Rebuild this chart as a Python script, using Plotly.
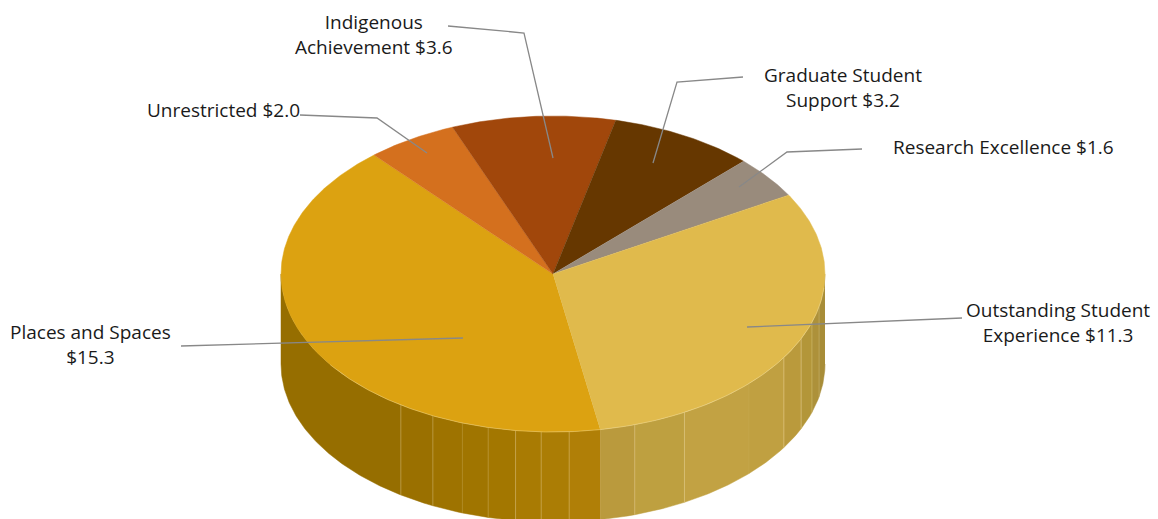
import numpy as np
import plotly.graph_objects as go

# Donation totals by priority ($ millions), in clockwise order
categories = ["Places and Spaces", "Unrestricted", "Indigenous Achievement",
              "Graduate Student Support", "Research Excellence",
              "Outstanding Student Experience"]
values = [15.3, 2.0, 3.6, 3.2, 1.6, 11.3]
top_colors = ["#DCA211", "#D4701E", "#A1470B", "#663700", "#998B7C", "#E0BA4C"]

# Label text for each slice, with its centre and its leader line
label_lines = [["Places and Spaces", "$15.3"], ["Unrestricted $2.0"],
               ["Indigenous", "Achievement $3.6"], ["Graduate Student", "Support $3.2"],
               ["Research Excellence $1.6"], ["Outstanding Student", "Experience $11.3"]]
label_x = [90, 223, 374, 843, 1003, 1058]
label_y = [344, 110, 34, 87, 147, 322]
leader_x = [[181, 463], [300, 377, 427], [448, 524, 553], [743, 677, 653], [862, 787, 739], [962, 747]]
leader_y = [[346, 338], [115, 118, 153], [26, 33, 158], [77, 82, 163], [149, 152, 187], [318, 327]]

# Facets of the visible rim: edge angles (clockwise from the top) and fill colours
rim_edges = [90, 102, 107.8, 114.2, 121.9, 133.9, 151.1, 162.5, 170,
             176.6, 182.5, 187.9, 193.8, 199.5, 206.2, 214, 270]
rim_colors = ["#A88D38", "#AD913A", "#B39639", "#BA9A3C", "#C0A041", "#C2A243", "#BEA040", "#BA9A3D",
              "#B07F07", "#AB7D05", "#A97B03", "#A37700", "#A07500", "#9E7300", "#9A7000", "#966E00"]
seam_alpha = [0.25, 0.3, 0.4, 0.4, 0.08, 0.3, 0.3, 0.0, 0.3, 0.3, 0.3, 0.2, 0.08, 0.3, 0.3]

CX, CY, RX, RY, DEPTH = 553, 274, 272, 158, 90
START_ANGLE = 170


def rim_point(angle_deg, drop=0.0, scale=1.0):
    a = np.radians(angle_deg)
    return CX + scale * RX * np.sin(a), CY - scale * RY * np.cos(a) + drop


def arc(a0, a1, drop=0.0):
    n = max(2, int(abs(a1 - a0) * 2) + 1)
    return rim_point(np.linspace(a0, a1, n), drop)


fig = go.Figure()


def polygon(xs, ys, color):
    fig.add_trace(go.Scatter(x=xs, y=ys, mode="lines", fill="toself", fillcolor=color,
                             line=dict(color=color, width=0.5), hoverinfo="skip", showlegend=False))


# Rim facets
for i, color in enumerate(rim_colors):
    tx, ty = arc(rim_edges[i], rim_edges[i + 1])
    bx, by = arc(rim_edges[i + 1], rim_edges[i], DEPTH)
    polygon(np.r_[tx, bx], np.r_[ty, by], color)

# Faint seams between facets
for edge, alpha in zip(rim_edges[1:-1], seam_alpha):
    if alpha > 0:
        sx, sy = rim_point(edge)
        fig.add_trace(go.Scatter(x=[sx, sx], y=[sy, sy + DEPTH], mode="lines",
                                 line=dict(color=f"rgba(245,225,170,{alpha})", width=1),
                                 hoverinfo="skip", showlegend=False))

# Top face, one wedge per value
total = sum(values)
angle = START_ANGLE
for value, color in zip(values, top_colors):
    sweep = 360 * value / total
    ax, ay = arc(angle, angle + sweep)
    polygon(np.r_[CX, ax], np.r_[CY, ay], color)
    angle += sweep

# Thin highlight where the top face meets the rim
hx, hy = arc(95, 235)
fig.add_trace(go.Scatter(x=hx, y=hy, mode="lines", line=dict(color="rgba(250,235,190,0.4)", width=0.8),
                         hoverinfo="skip", showlegend=False))

# Leader lines
for lx, ly in zip(leader_x, leader_y):
    fig.add_trace(go.Scatter(x=lx, y=ly, mode="lines", line=dict(color="#888888", width=1.3),
                             hoverinfo="skip", showlegend=False))

annotations = [dict(x=x, y=y, xref="x", yref="y", text="<br>".join(lines), showarrow=False,
                    xanchor="center", yanchor="middle", align="center",
                    font=dict(family="Open Sans", size=19, color="#1A1A1A"))
               for lines, x, y in zip(label_lines, label_x, label_y)]

fig.update_layout(
    width=1158, height=519, margin=dict(l=0, r=0, t=0, b=0),
    paper_bgcolor="white", plot_bgcolor="white", showlegend=False, annotations=annotations,
    xaxis=dict(range=[0, 1158], visible=False, fixedrange=True),
    yaxis=dict(range=[519, 0], visible=False, fixedrange=True),
)
fig.write_html("out.html", config={"displayModeBar": False})
